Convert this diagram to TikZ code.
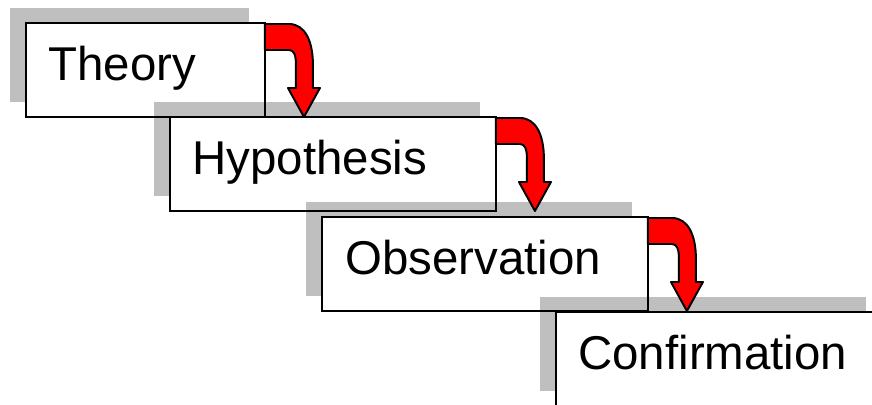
\documentclass[tikz,border=0pt]{standalone}
\usepackage{fontspec}
\setmainfont{Liberation Sans}
\usetikzlibrary{shadows}

\tikzset{
  stage/.style={draw, fill=white, line width=1.1pt, inner sep=0pt, outer sep=0pt,
    minimum height=1.88cm, anchor=north west,
    drop shadow={shadow xshift=-0.32cm, shadow yshift=0.3cm, fill=black, opacity=0.25}},
  word/.style={anchor=base west, inner sep=0pt, font=\fontsize{27pt}{32pt}\selectfont},
  bent/.style={fill=red, draw=black, line width=1.1pt, line join=round}
}
\newcommand{\bentarrow}[1]{%
  \filldraw[bent, shift={(#1.north east)}] (0,1) -- (24,1)
    .. controls (40,1) and (48,18) .. (48,42) -- (48,65) -- (55,65) -- (39,94)
    -- (23,65) -- (31,65) -- (31,42) .. controls (31,32) and (29,27) .. (24,27)
    -- (0,27) -- cycle;}

\begin{document}
\begin{tikzpicture}[x=0.02cm, y=-0.02cm]
        \useasboundingbox (0,0) rectangle (872,405);
        \clip (0,0) rectangle (872,405);
        % stairs
        \node[stage, minimum width=4.78cm] (theory) at (26,23) {};
        \node[stage, minimum width=6.52cm] (hypothesis) at (170,117) {};
        \node[stage, minimum width=6.52cm] (observation) at (322,217) {};
        \node[stage, minimum width=6.52cm] (confirmation) at (556,312) {};
        \node[word] (theorytext) at (48,81) {Theory};
        \node[word] (hypothesistext) at (192,175) {Hypothesis};
        \node[word] (observationtext) at (345,275) {Observation};
        \node[word] (confirmationtext) at (578,369) {Confirmation};
        % arrows
        \bentarrow{theory}
        \bentarrow{hypothesis}
        \bentarrow{observation}
    \end{tikzpicture}
\end{document}
